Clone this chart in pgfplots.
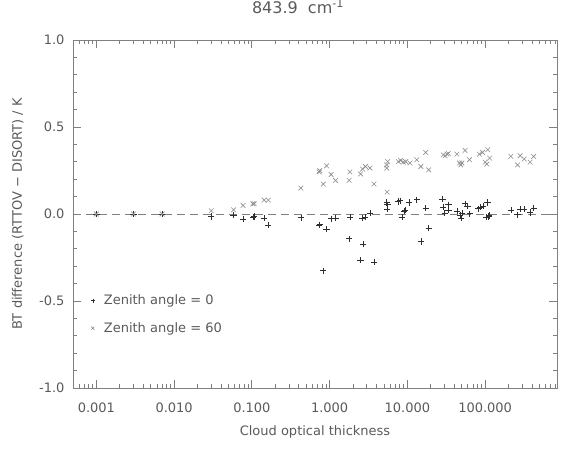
\documentclass[border=0pt]{standalone}
\usepackage{fontspec}
\setmainfont{DejaVu Sans}
\usepackage{pgfplots}
\pgfplotsset{compat=1.18}
\definecolor{txt}{HTML}{5A5A5A}
\definecolor{axc}{HTML}{808080}
\definecolor{mA}{HTML}{2E2E2E}
\definecolor{mB}{HTML}{8C8C8C}
\pgfplotstableread{
x y
0.001 0
0.003 0
0.007 0
0.03 -0.014
0.058 -0.005
0.077 -0.028
0.103 -0.017
0.107 -0.014
0.144 -0.023
0.163 -0.065
0.426 -0.021
0.734 -0.063
0.746 -0.061
0.912 -0.088
0.828 -0.326
1.045 -0.027
1.19 -0.025
1.78 -0.142
1.82 -0.017
2.50 -0.266
2.65 -0.023
2.88 -0.019
2.69 -0.172
3.30 0.005
3.72 -0.275
5.42 0.066
5.56 0.054
5.49 0.028
7.63 0.072
8.07 0.077
9.31 0.024
9.0 0.015
8.53 -0.017
10.5 0.066
13.2 0.082
17.2 0.035
18.8 -0.081
14.9 -0.158
28.2 0.086
29.0 0.040
30.1 0.005
33.7 0.054
33.7 0.024
43.3 0.015
47.4 -0.009
49.1 -0.023
50.2 0.005
55.2 0.059
59.3 0.047
63.4 0.002
82.2 0.030
86.1 0.040
93.8 0.047
107 0.066
103 -0.017
111 -0.014
113 -0.009
214 0.021
261 -0.004
282 0.028
318 0.028
379 0.009
421 0.035
}\zenA
\pgfplotstableread{
x y
0.001 0
0.003 0
0.007 0
0.03 0.019
0.058 0.024
0.077 0.049
0.103 0.059
0.107 0.059
0.144 0.080
0.163 0.080
0.426 0.149
0.734 0.242
0.746 0.249
0.912 0.277
0.828 0.172
1.045 0.227
1.19 0.193
1.82 0.242
1.78 0.193
2.50 0.230
2.65 0.258
2.88 0.273
3.30 0.264
3.72 0.172
5.56 0.301
5.41 0.264
5.49 0.126
5.42 0.282
7.65 0.301
8.20 0.308
8.86 0.298
9.52 0.301
10.8 0.293
13.2 0.312
14.9 0.273
17.2 0.354
18.8 0.254
29.0 0.340
30.6 0.334
32.2 0.344
33.7 0.347
43.3 0.344
46.7 0.293
48.7 0.282
50.2 0.293
55.2 0.365
62.8 0.312
84.5 0.344
92.5 0.354
100 0.298
108 0.369
114 0.321
105 0.287
214 0.331
261 0.282
282 0.335
318 0.316
379 0.298
421 0.331
}\zenB
\begin{document}
\begin{tikzpicture}
\path[use as bounding box] (0,0) rectangle (562bp,449bp);
\begin{axis}[
  at={(73bp,61bp)}, anchor=south west,
  scale only axis, width=484bp, height=348bp,
  xmode=log, xmin=0.0005, xmax=840, ymin=-1, ymax=1,
  xtick={0.001,0.01,0.1,1,10,100},
  xticklabels={0.001,0.010,0.100,1.000,10.000,100.000},
  minor xtick={0.0006,0.0007,0.0008,0.0009,
    0.002,0.003,0.004,0.005,0.006,0.007,0.008,0.009,
    0.02,0.03,0.04,0.05,0.06,0.07,0.08,0.09,
    0.2,0.3,0.4,0.5,0.6,0.7,0.8,0.9,
    2,3,4,5,6,7,8,9,20,30,40,50,60,70,80,90,200,300,400,500,600,700,800},
  ytick={-1,-0.5,0,0.5,1},
  yticklabels={-1.0,-0.5,0.0,0.5,1.0},
  minor ytick={-0.9,-0.8,-0.7,-0.6,-0.4,-0.3,-0.2,-0.1,0.1,0.2,0.3,0.4,0.6,0.7,0.8,0.9},
  major tick length=8bp, minor tick length=4bp,
  tick align=inside,
  axis line style={axc, line width=0.8bp},
  every tick/.style={axc, line width=0.8bp},
  every minor tick/.style={axc, line width=0.8bp},
  tick label style={font=\fontsize{13bp}{15bp}\selectfont, text=txt},
  xticklabel style={yshift=-11bp},
  yticklabel style={xshift=-5bp},
  title={843.9\ \ cm\textsuperscript{-1}},
  title style={font=\fontsize{16bp}{18bp}\selectfont, text=txt, at={(axis description cs:0.465,1.078)}, anchor=center},
  xlabel={Cloud optical thickness},
  ylabel={BT difference (RTTOV − DISORT) / K},
  every axis x label/.style={at={(axis description cs:0.5,-0.126)}, anchor=center, font=\fontsize{13bp}{15bp}\selectfont, text=txt},
  every axis y label/.style={at={(axis description cs:-0.114,0.5)}, rotate=90, anchor=center, font=\fontsize{13bp}{15bp}\selectfont, text=txt},
  legend style={at={(axis description cs:0.03,0.279)}, anchor=north west, draw=none, fill=none,
    font=\fontsize{13bp}{15bp}\selectfont, text=txt, row sep=12bp, column sep=7bp},
  legend cell align=left,
  legend image post style={mark size=2.1bp},
]
\addplot[axc, line width=0.8bp, dash pattern=on 8bp off 5bp, forget plot] coordinates {(0.0005,0) (840,0)};
\addplot[only marks, mark=+, mark size=3.1bp, mA, mark options={line width=0.6bp}] table[x=x,y=y] {\zenA};
\addlegendentry{Zenith angle = 0}
\addplot[only marks, mark=x, mark size=3.3bp, mB, mark options={line width=0.6bp}] table[x=x,y=y] {\zenB};
\addlegendentry{Zenith angle = 60}
\end{axis}
\end{tikzpicture}
\end{document}
